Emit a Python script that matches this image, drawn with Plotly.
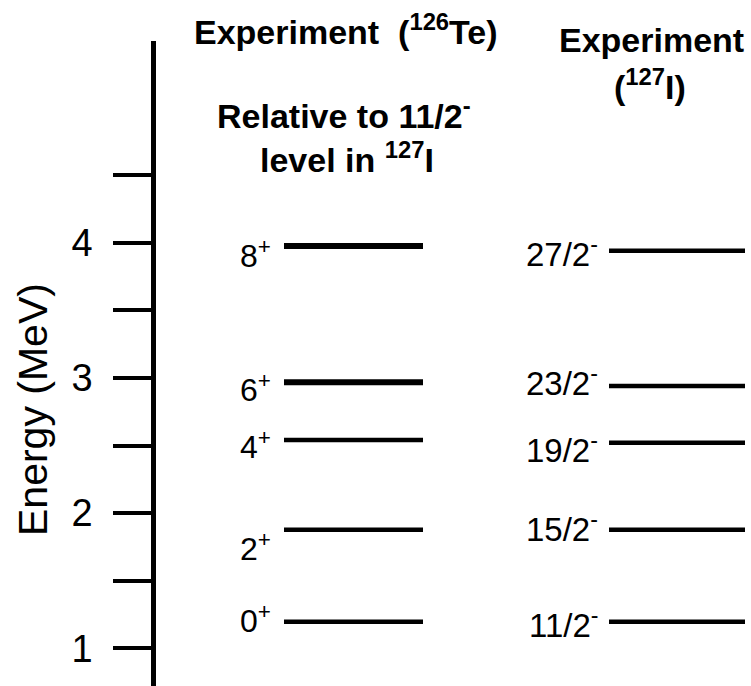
import plotly.graph_objects as go

# ---- data ----
te_labels = ["0<sup>+</sup>", "2<sup>+</sup>", "4<sup>+</sup>", "6<sup>+</sup>", "8<sup>+</sup>"]
te_energy = [1.197, 1.877, 2.540, 2.967, 3.976]
i_labels = ["11/2<sup>-</sup>", "15/2<sup>-</sup>", "19/2<sup>-</sup>", "23/2<sup>-</sup>", "27/2<sup>-</sup>"]
i_energy = [1.197, 1.877, 2.521, 2.940, 3.941]
tick_vals = [1, 1.5, 2, 2.5, 3, 3.5, 4, 4.5]
tick_text = ["1", "", "2", "", "3", "", "4", ""]
y_title = "Energy (MeV)"

# ---- layout constants (pixels) ----
W, H = 751, 686
ML, MT = 156, 41
FONT = "Liberation Sans, Arial, sans-serif"
te_x = (284, 423)
i_x = (609, 745)
te_width = [4.5, 4.5, 4.5, 6, 6]
i_width = [4.5, 4.5, 4.5, 4.5, 4.5]
te_label_shift = [3, -17, -5, -6, -8]
i_label_shift = [-1, 3, -5, 5, -1]

def py(p):
    return (H - p) / (H - MT)

fig = go.Figure()
for e, w in zip(te_energy, te_width):
    fig.add_trace(go.Scatter(x=list(te_x), y=[e, e], mode="lines",
                             line=dict(color="black", width=w), hoverinfo="skip"))
for e, w in zip(i_energy, i_width):
    fig.add_trace(go.Scatter(x=list(i_x), y=[e, e], mode="lines",
                             line=dict(color="black", width=w), hoverinfo="skip"))

ann = []
for lab, e, s in zip(te_labels, te_energy, te_label_shift):
    ann.append(dict(x=273, y=e, xref="x", yref="y", text=lab, showarrow=False,
                    xanchor="right", yanchor="middle", yshift=s,
                    font=dict(family=FONT, size=32, color="black")))
for lab, e, s in zip(i_labels, i_energy, i_label_shift):
    ann.append(dict(x=600, y=e, xref="x", yref="y", text=lab, showarrow=False,
                    xanchor="right", yanchor="middle", yshift=s,
                    font=dict(family=FONT, size=33, color="black")))

hdr = dict(family=FONT, size=34, color="black")
ann += [
    dict(x=346, y=py(29), xref="x", yref="paper", text="<b>Experiment&nbsp;&nbsp;(<sup>126</sup>Te)</b>",
         showarrow=False, xanchor="center", yanchor="middle", font=hdr),
    dict(x=344, y=py(114), xref="x", yref="paper", text="<b>Relative to 11/2<sup>-</sup></b>",
         showarrow=False, xanchor="center", yanchor="middle", font=hdr),
    dict(x=347, y=py(157), xref="x", yref="paper", text="<b>level in <sup>127</sup>I</b>",
         showarrow=False, xanchor="center", yanchor="middle", font=hdr),
    dict(x=651, y=py(40), xref="x", yref="paper", text="<b>Experiment</b>",
         showarrow=False, xanchor="center", yanchor="middle", font=hdr),
    dict(x=650, y=py(84), xref="x", yref="paper", text="<b>(<sup>127</sup>I)</b>",
         showarrow=False, xanchor="center", yanchor="middle", font=hdr),
    dict(x=33, y=py(410), xref="paper", yref="paper", text=y_title, textangle=-90,
         showarrow=False, xanchor="center", yanchor="middle",
         font=dict(family=FONT, size=41, color="black")),
]
# x for the title annotation in paper coords of the plot area
ann[-1]["x"] = (33 - ML) / (W - ML)

bottom = 1 - (H - 648.3) / 135.2
top = bottom + (H - MT) / 135.2

fig.update_layout(
    width=W, height=H,
    margin=dict(l=ML, r=0, t=MT, b=0),
    paper_bgcolor="white", plot_bgcolor="white",
    showlegend=False,
    annotations=ann,
    xaxis=dict(range=[ML, W], visible=False, fixedrange=True),
    yaxis=dict(range=[bottom, top], showgrid=False, zeroline=False,
               showline=True, linecolor="black", linewidth=4.5,
               ticks="outside", ticklen=38, tickwidth=4, tickcolor="black",
               tickvals=tick_vals, ticktext=tick_text,
               ticklabelstandoff=13,
               tickfont=dict(family=FONT, size=38, color="black"),
               automargin=False, fixedrange=True),
)

fig.write_html("out.html")
